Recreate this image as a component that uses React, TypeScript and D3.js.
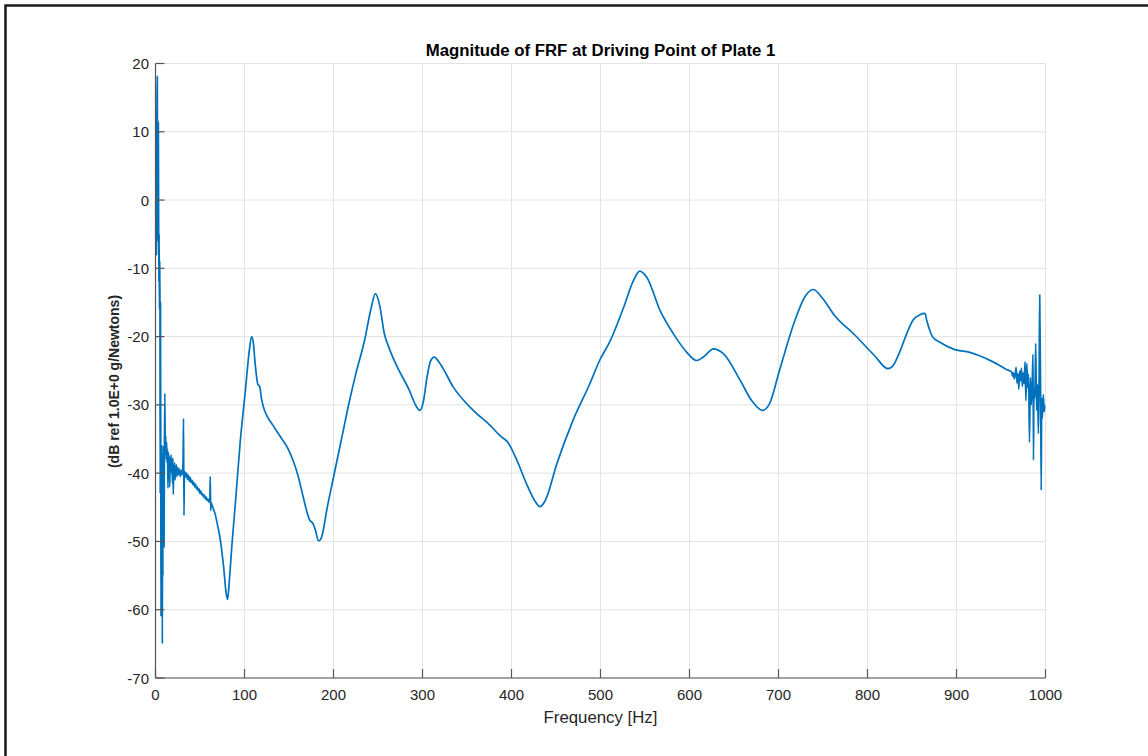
import React, { useEffect, useRef } from "react";
import * as d3 from "d3";

const titleText = "Magnitude of FRF at Driving Point of Plate 1";
const xLabelText = "Frequency [Hz]";
const yLabelText = "(dB ref 1.0E+0 g/Newtons)";

const xTicks = [0, 100, 200, 300, 400, 500, 600, 700, 800, 900, 1000];
const yTicks = [-70, -60, -50, -40, -30, -20, -10, 0, 10, 20];

// Frequency (Hz) and magnitude (dB)
const frequencyHz = [
  0.3, 0.7, 1.0, 1.3, 1.7, 2.0, 2.3, 2.6, 2.9, 3.2, 3.5, 3.8, 4.1, 4.4, 4.7, 5.0,
  5.3, 5.6, 5.9, 6.2, 6.5, 6.8, 7.1, 7.4, 7.7, 8.0, 8.3, 8.6, 8.9, 9.2, 9.6, 10.0,
  10.5, 11, 11.5, 12, 12.5, 13, 13.5, 14, 14.5, 15, 15.5, 16, 16.5, 17, 17.5, 18,
  18.5, 19, 19.5, 20, 20.5, 21, 21.5, 22, 22.5, 23, 23.5, 24, 25, 26, 27, 28, 29,
  30, 31, 31.5, 32, 32.5, 33, 34, 35, 36, 37, 38, 39, 40, 41, 42, 43, 44, 45, 46,
  47, 48, 49, 50, 51, 52, 53, 54, 55, 56, 57, 58, 59, 60, 61, 61.5, 62, 62.5, 63,
  65, 67, 70, 73, 76.6, 79.6, 81, 82.5, 84.5, 86, 90, 95, 101, 105, 108, 110, 112,
  115, 117, 119, 121, 126, 132, 140, 148, 155, 160, 166, 170, 173, 177, 180, 183,
  185, 187, 193, 200, 209, 218, 225, 235, 242, 247, 252, 257, 262, 270, 285, 293,
  297, 301, 305, 309, 313, 320, 334.6, 357, 376, 387, 396, 406, 417, 426, 432, 438,
  451, 469, 488, 499, 511, 526, 537, 544, 552, 567, 582, 597, 608, 615.5, 627, 638,
  657, 670, 682, 690, 701, 718.5, 730, 739, 749, 763, 786, 808, 823, 829, 836, 844,
  851, 859, 864.6, 866.5, 870, 873, 881, 898, 915, 926, 941, 956, 962, 963, 964,
  965, 966, 967, 968, 969, 970, 971, 972, 973, 974, 975, 976, 977, 978, 979, 980,
  981, 982, 983, 984, 985, 986, 986.5, 987, 988, 989, 990, 991, 992, 992.7, 993.5,
  994.6, 995.2, 995.7, 996.5, 997.5, 998.5, 999.3, 1000,
];

const magnitudeDb = [
  -2, 5, -8, 9, 14, 18.1, 3, -6, 6, 11.4, -2, -12, -5, -16, -9, -14,
  -43, -15, -36, -61, -38, -55, -36, -43, -65, -40, -55, -37, -48, -36, -50.8, -36.5,
  -28.3, -37, -34.5, -38, -35.5, -38.5, -36.5, -42.2, -37, -38.5, -37.5, -42, -38, -39, -37.3, -40,
  -38, -41.5, -37.8, -43.1, -39, -40.5, -38.5, -41, -39, -40, -38.8, -40.5, -39.2, -40.2, -39.4, -40.5, -39.6,
  -40.2, -38, -32, -46.2, -40, -39.8, -40.6, -40, -40.9, -40.3, -41.2, -40.6, -41.4, -41, -41.7, -41.3, -42, -41.6, -42.3,
  -42, -42.6, -42.3, -43, -42.6, -43.2, -43, -43.5, -43.2, -43.8, -43.5, -44, -43.8, -44.2, -44, -40.5, -45.5, -44.3, -44.5,
  -45.2, -46, -47.8, -49.9, -53.8, -57.8, -58.5, -56.5, -53, -50.3, -44, -35.7, -27.9, -22.5, -20, -21, -24,
  -27, -27.3, -29, -30.2, -31.8, -33, -34.6, -36.2, -38.3, -40.3, -43.5, -45.6, -46.8, -47.4, -48.5, -49.9,
  -49.8, -49.2, -45, -40.6, -35, -29.4, -25.5, -20.5, -16, -13.7, -15.5, -19.5, -21.5, -24, -27.8, -30.2,
  -30.8, -29.5, -26, -23.6, -23, -24, -27.4, -30.8, -33, -34.5, -35.5, -38.1, -41.6, -44, -44.9, -44,
  -38.6, -32.3, -26.9, -23.5, -20.6, -15.7, -11.8, -10.4, -11.3, -16.2, -19.6, -22.3, -23.5, -23, -21.8, -22.5,
  -26.4, -29.4, -30.8, -29.8, -25, -17.6, -14.1, -13.1, -14.3, -16.9, -19.8, -22.8, -24.7, -24.2, -22.3, -19.6,
  -17.6, -16.8, -16.6, -17.6, -19.1, -20, -20.8, -21.9, -22.3, -22.8, -23.7, -24.8, -25.2, -25.8, -25.3,
  -26.2, -25.5, -24.5, -26.8, -25.4, -27.7, -25, -26.5, -24.6, -27.3, -25.3, -26.9, -23.7, -29.4, -23.9, -27.5,
  -25.5, -35.5, -26, -30, -27, -22.6, -38.1, -27.5, -29, -21, -30.8, -27, -34.2, -27.5,
  -13.9, -30, -42.5, -29, -32, -28.5, -31, -30,
];

const W = 1148;
const H = 756;
const plotLeft = 155.5;
const plotRight = 1045.5;
const plotTop = 63.5;
const plotBottom = 678;

export default function App() {
  const ref = useRef<SVGSVGElement | null>(null);

  useEffect(() => {
    const svg = d3.select(ref.current);
    svg.selectAll("*").remove();

    const x = d3.scaleLinear().domain([0, 1000]).range([plotLeft, plotRight]);
    const y = d3.scaleLinear().domain([-70, 20]).range([plotBottom, plotTop]);
    const font = "'Liberation Sans', Arial, Helvetica, sans-serif";

    svg.append("rect").attr("width", W).attr("height", H).attr("fill", "#ffffff");

    // figure frame
    svg
      .append("path")
      .attr("d", `M5.5,${H + 5}V5.5H${W + 5}`)
      .attr("fill", "none")
      .attr("stroke", "#1a1a1a")
      .attr("stroke-width", 2.5);

    // grid
    const grid = svg.append("g");
    xTicks.forEach((t) => {
      grid
        .append("line")
        .attr("x1", x(t))
        .attr("x2", x(t))
        .attr("y1", plotTop)
        .attr("y2", plotBottom)
        .attr("stroke", "#e3e3e3")
        .attr("stroke-width", 1);
    });
    yTicks.forEach((t) => {
      grid
        .append("line")
        .attr("x1", plotLeft)
        .attr("x2", plotRight)
        .attr("y1", y(t))
        .attr("y2", y(t))
        .attr("stroke", "#e3e3e3")
        .attr("stroke-width", 1);
    });

    // data line
    const pts: [number, number][] = frequencyHz.map((f, i) => [f, magnitudeDb[i]]);
    const line = d3
      .line<[number, number]>()
      .x((d) => x(d[0]))
      .y((d) => y(d[1]))
      .curve(d3.curveMonotoneX);
    svg
      .append("path")
      .datum(pts)
      .attr("d", line)
      .attr("fill", "none")
      .attr("stroke", "#0072BD")
      .attr("stroke-width", 1.7)
      .attr("stroke-linejoin", "round");

    // axes lines
    const axisColor = "#555555";
    svg
      .append("path")
      .attr("d", `M${plotLeft},${plotTop}V${plotBottom}H${plotRight}`)
      .attr("fill", "none")
      .attr("stroke", axisColor)
      .attr("stroke-width", 1.2);

    const tickLen = 9;
    xTicks.forEach((t) => {
      svg
        .append("line")
        .attr("x1", x(t))
        .attr("x2", x(t))
        .attr("y1", plotBottom)
        .attr("y2", plotBottom - tickLen)
        .attr("stroke", axisColor)
        .attr("stroke-width", 1.2);
      svg
        .append("text")
        .attr("x", x(t))
        .attr("y", 700)
        .attr("text-anchor", "middle")
        .attr("font-family", font)
        .attr("font-size", 15)
        .attr("fill", "#262626")
        .text(String(t));
    });
    yTicks.forEach((t) => {
      svg
        .append("line")
        .attr("x1", plotLeft)
        .attr("x2", plotLeft + tickLen)
        .attr("y1", y(t))
        .attr("y2", y(t))
        .attr("stroke", axisColor)
        .attr("stroke-width", 1.2);
      svg
        .append("text")
        .attr("x", 149)
        .attr("y", y(t) + 5.5)
        .attr("text-anchor", "end")
        .attr("font-family", font)
        .attr("font-size", 15)
        .attr("fill", "#262626")
        .text(String(t));
    });

    // title
    svg
      .append("text")
      .attr("x", (plotLeft + plotRight) / 2)
      .attr("y", 56)
      .attr("text-anchor", "middle")
      .attr("font-family", font)
      .attr("font-size", 16.8)
      .attr("font-weight", "bold")
      .attr("fill", "#000000")
      .text(titleText);

    // x label
    svg
      .append("text")
      .attr("x", (plotLeft + plotRight) / 2)
      .attr("y", 723)
      .attr("text-anchor", "middle")
      .attr("font-family", font)
      .attr("font-size", 16.8)
      .attr("fill", "#262626")
      .text(xLabelText);

    // y label
    svg
      .append("text")
      .attr("transform", `translate(119, 381.5) rotate(-90)`)
      .attr("text-anchor", "middle")
      .attr("font-family", font)
      .attr("font-size", 14)
      .attr("font-weight", "bold")
      .attr("fill", "#262626")
      .text(yLabelText);
  }, []);

  return (
    <svg
      ref={ref}
      width={W}
      height={H}
      style={{ position: "absolute", left: 0, top: 0, display: "block" }}
    />
  );
}
